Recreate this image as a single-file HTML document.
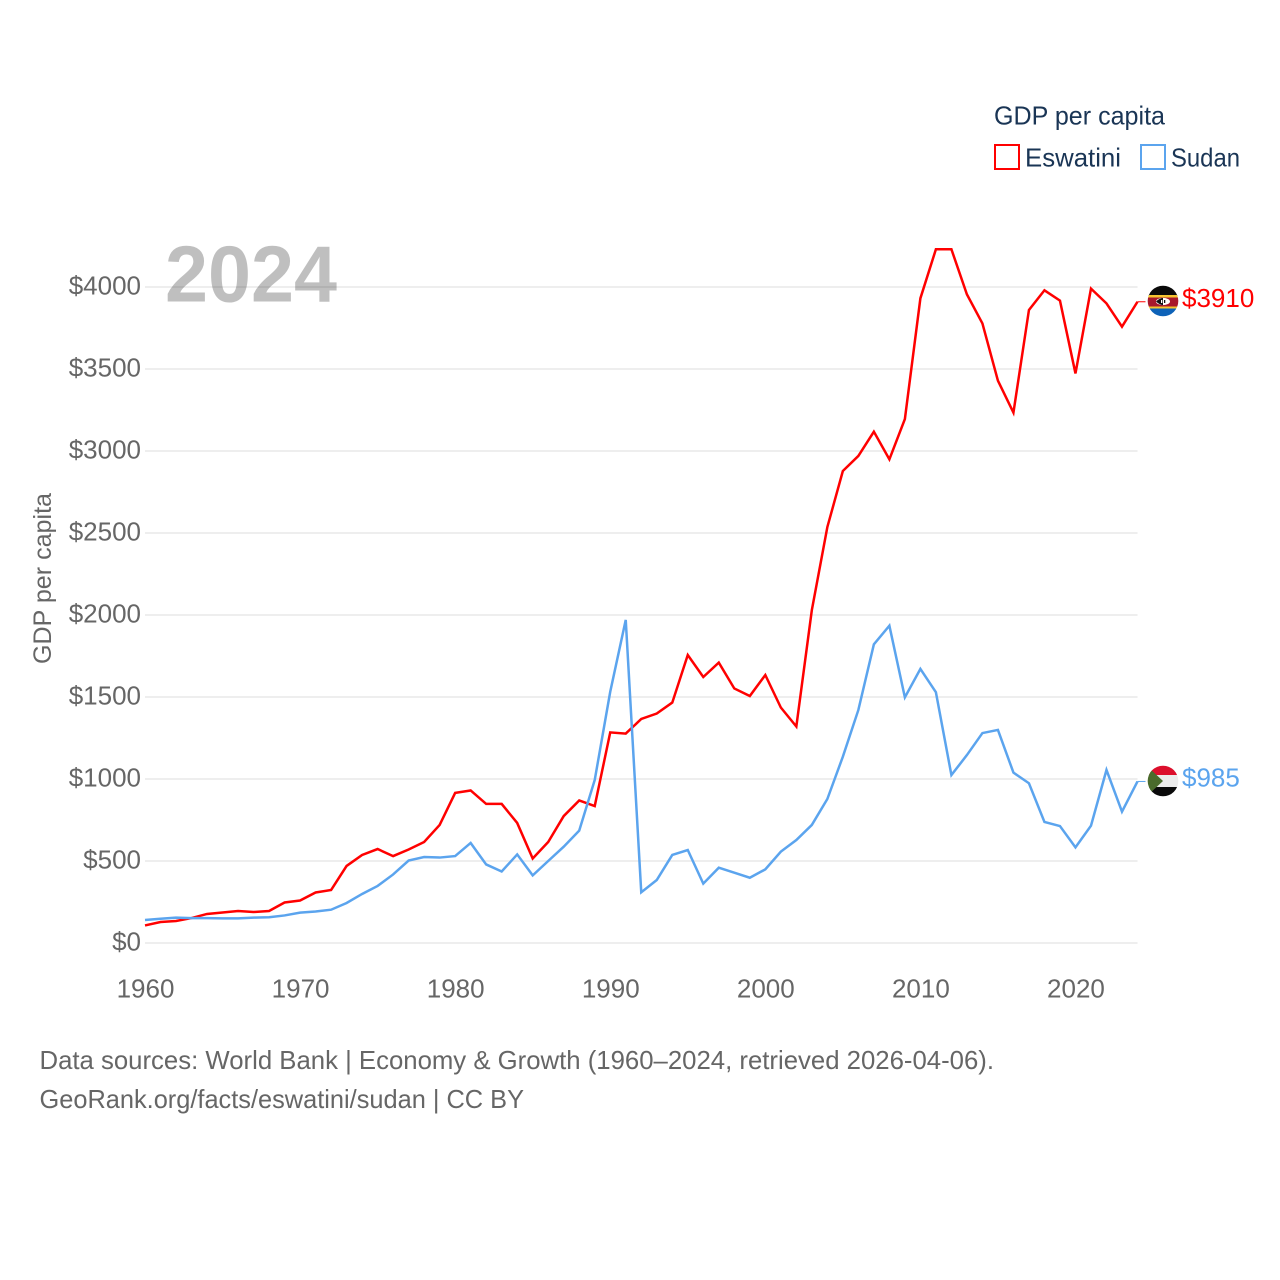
<!DOCTYPE html>
<html lang="en">
<head>
<meta charset="utf-8">
<title>GDP per capita: Eswatini and Sudan</title>
<style>
  html, body { margin: 0; padding: 0; background: #fff; }
  svg { display: block; font-family: "Liberation Sans", "DejaVu Sans", sans-serif; }
</style>
</head>
<body>
<svg id="chart" xmlns="http://www.w3.org/2000/svg" width="1280" height="1280" viewBox="0 0 1280 1280">
  <defs>
    <clipPath id="clip-eswatini"><circle cx="1163" cy="301" r="15.3"/></clipPath>
    <clipPath id="clip-sudan"><circle cx="1163" cy="781" r="15.3"/></clipPath>
  </defs>
  <rect width="1280" height="1280" fill="#fff"/>
  <g id="grid"></g>
  <text x="165" y="301.5" font-size="80" font-weight="700" fill="#000" fill-opacity="0.25" textLength="172" lengthAdjust="spacingAndGlyphs">2024</text>
  <g id="y-axis"></g>
  <g id="x-axis"></g>
  <text transform="translate(51,664) rotate(-90)" font-size="25" fill="#666" textLength="171" lengthAdjust="spacingAndGlyphs">GDP per capita</text>
  <g id="series"></g>

  <g>
    <text x="994" y="124.5" font-size="26" fill="#1a3555" textLength="171" lengthAdjust="spacingAndGlyphs">GDP per capita</text>
    <rect x="995" y="145" width="24" height="24" fill="#fff" stroke="#ff0000" stroke-width="2"/>
    <text x="1025" y="166.5" font-size="26" fill="#1a3555" textLength="96" lengthAdjust="spacingAndGlyphs">Eswatini</text>
    <rect x="1141" y="145" width="24" height="24" fill="#fff" stroke="#5ba4ee" stroke-width="2"/>
    <text x="1171" y="166.5" font-size="26" fill="#1a3555" textLength="69" lengthAdjust="spacingAndGlyphs">Sudan</text>
  </g>

  <g clip-path="url(#clip-eswatini)">
    <rect x="1147" y="285" width="32" height="11" fill="#0a0a0a"/>
    <rect x="1147" y="295" width="32" height="2.5" fill="#f4c430"/>
    <rect x="1147" y="297.5" width="32" height="9" fill="#a8182c"/>
    <rect x="1147" y="306.5" width="32" height="2" fill="#f4c430"/>
    <rect x="1147" y="308.5" width="32" height="9" fill="#0d62b8"/>
    <ellipse cx="1163" cy="301.5" rx="7" ry="3.6" fill="#fff"/>
    <path d="M1156 301.5 Q1160 297.9 1163 297.9 L1163 305.1 Q1160 305.1 1156 301.5Z" fill="#111"/>
    <rect x="1161" y="300" width="1.3" height="3" fill="#fff"/>
    <rect x="1164" y="300" width="1.3" height="3" fill="#111"/>
  </g>

  <g clip-path="url(#clip-sudan)">
    <rect x="1147" y="765" width="32" height="10" fill="#dc0f2c"/>
    <rect x="1147" y="775" width="32" height="12" fill="#ececec"/>
    <rect x="1147" y="787" width="32" height="10" fill="#0a0a0a"/>
    <path d="M1147 766 L1163 781 L1147 796Z" fill="#4a6b2c"/>
  </g>

  <g>
    <text x="39.5" y="1069" font-size="26" fill="#666" textLength="954.5" lengthAdjust="spacingAndGlyphs">Data sources: World Bank | Economy &amp; Growth (1960–2024, retrieved 2026-04-06).</text>
    <text x="39.5" y="1108" font-size="26" fill="#666" textLength="484.5" lengthAdjust="spacingAndGlyphs">GeoRank.org/facts/eswatini/sudan | CC BY</text>
  </g>
</svg>
<script>
const startYear = 1960;
const yTickValues = [0, 500, 1000, 1500, 2000, 2500, 3000, 3500, 4000];
const xTickYears = [1960, 1970, 1980, 1990, 2000, 2010, 2020];
const eswatiniValues = [107,128,134,152,177,186,195,189,195,247,259,308,323,470,537,573,530,570,616,720,915,930,848,848,732,515,616,774,869,835,1284,1277,1366,1399,1466,1756,1622,1710,1552,1506,1634,1436,1320,2030,2536,2878,2970,3118,2949,3195,3931,4230,4230,3955,3778,3429,3234,3860,3980,3917,3473,3990,3900,3758,3910];
const sudanValues = [140,148,155,152,152,150,150,155,157,168,185,192,203,244,299,348,418,503,524,521,530,610,479,436,540,412,500,587,685,994,1532,1970,309,384,537,567,362,459,429,398,449,557,628,720,878,1136,1421,1821,1935,1498,1671,1529,1024,1146,1280,1299,1039,974,738,713,583,715,1055,801,985];

const NS = 'http://www.w3.org/2000/svg';
const xScale = function (year) { return 145 + (year - 1960) * (992.5 / 64); };
const yScale = function (value) { return 943 - value * (656 / 4000); };

function make(parent, tag, props, label) {
  const el = document.createElementNS(NS, tag);
  Object.keys(props).forEach(function (k) { el.setAttribute(k, props[k]); });
  if (label !== undefined) el.textContent = label;
  parent.appendChild(el);
  return el;
}

const gridGroup = document.getElementById('grid');
const yGroup = document.getElementById('y-axis');
const xGroup = document.getElementById('x-axis');
const seriesGroup = document.getElementById('series');

yTickValues.forEach(function (v) {
  const line = make(gridGroup, 'line', { x1: 145, x2: 1137.5, y1: yScale(v), y2: yScale(v), stroke: '#eeeeee', 'stroke-width': 2 });
  
  
  const tick = make(yGroup, 'text', { x: 141, y: yScale(v) + 7.5, 'text-anchor': 'end', 'font-size': 26, fill: '#666' }, '$' + v);
  
  
});

xTickYears.forEach(function (yr) {
  const tick = make(xGroup, 'text', { x: xScale(yr) + 0.5, y: 997.5, 'text-anchor': 'middle', 'font-size': 26, fill: '#666' }, String(yr));
  
  
});

function drawSeries(values, color, nameLine, nameConnector, nameLabel) {
  const pts = values.map(function (v, i) { return xScale(startYear + i).toFixed(2) + ',' + yScale(v).toFixed(2); }).join(' ');
  const path = make(seriesGroup, 'polyline', { points: pts, fill: 'none', stroke: color, 'stroke-width': 2.5, 'stroke-linejoin': 'miter' });
  
  
  const last = values[values.length - 1];
  const lastX = xScale(startYear + values.length - 1);
  const lastY = yScale(last);
  const connector = make(seriesGroup, 'line', { x1: lastX, x2: lastX + 8, y1: lastY, y2: lastY, stroke: color, 'stroke-width': 1 });
  
  
  const label = make(seriesGroup, 'text', { x: 1182, y: lastY + 5, 'font-size': 26, fill: color }, '$' + last);
  
  
}

drawSeries(eswatiniValues, '#ff0000', 'line-eswatini', 'connector-eswatini', 'value-label-eswatini');
drawSeries(sudanValues, '#5ba4ee', 'line-sudan', 'connector-sudan', 'value-label-sudan');
</script>
</body>
</html>
